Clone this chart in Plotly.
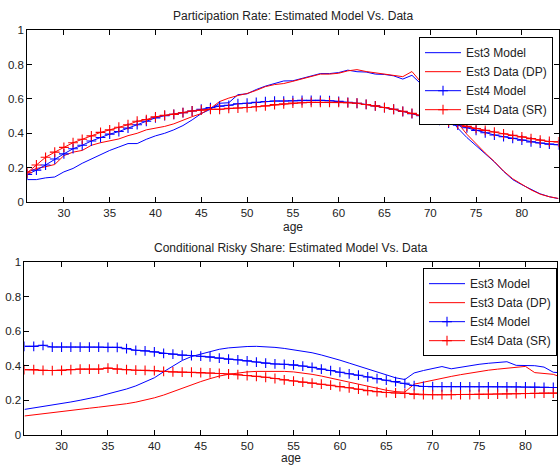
import plotly.graph_objects as go

ages = list(range(26, 85))

# Participation rate (top panel)
pr_est3_model = [0.13, 0.13, 0.14, 0.145, 0.175, 0.195, 0.225, 0.25, 0.275, 0.30,
                 0.32, 0.34, 0.34, 0.365, 0.385, 0.40, 0.42, 0.445, 0.478, 0.515,
                 0.54, 0.575, 0.578, 0.625, 0.63, 0.655, 0.675, 0.688, 0.705, 0.706,
                 0.72, 0.735, 0.748, 0.748, 0.754, 0.768, 0.759, 0.757, 0.745, 0.743,
                 0.735, 0.716, 0.738, 0.687, 0.64, 0.585, 0.495, 0.43, 0.375, 0.328,
                 0.28, 0.233, 0.178, 0.13, 0.10, 0.072, 0.047, 0.03, 0.019]
pr_est3_data = [0.172, 0.195, 0.205, 0.218, 0.27, 0.29, 0.30, 0.33, 0.345, 0.358,
                0.367, 0.386, 0.40, 0.42, 0.43, 0.44, 0.455, 0.478, 0.497, 0.515,
                0.545, 0.585, 0.605, 0.62, 0.632, 0.65, 0.672, 0.684, 0.69, 0.703,
                0.716, 0.731, 0.745, 0.745, 0.75, 0.764, 0.771, 0.76, 0.752, 0.745,
                0.738, 0.73, 0.76, 0.697, 0.65, 0.60, 0.536, 0.46, 0.394, 0.337,
                0.285, 0.235, 0.18, 0.135, 0.10, 0.07, 0.045, 0.03, 0.02]
pr_est4_model = [0.16, 0.185, 0.215, 0.25, 0.28, 0.31, 0.33, 0.355, 0.375, 0.395,
                 0.41, 0.43, 0.45, 0.47, 0.49, 0.503, 0.51, 0.52, 0.53, 0.54,
                 0.55, 0.558, 0.563, 0.572, 0.575, 0.58, 0.585, 0.588, 0.588, 0.59,
                 0.592, 0.592, 0.592, 0.59, 0.586, 0.58, 0.575, 0.568, 0.56, 0.55,
                 0.54, 0.527, 0.514, 0.502, 0.49, 0.475, 0.46, 0.447, 0.432, 0.417,
                 0.403, 0.39, 0.38, 0.37, 0.36, 0.35, 0.343, 0.337, 0.333]
pr_est4_data = [0.17, 0.215, 0.26, 0.29, 0.318, 0.345, 0.365, 0.385, 0.405, 0.42,
                0.435, 0.45, 0.47, 0.48, 0.496, 0.505, 0.51, 0.52, 0.53, 0.535,
                0.54, 0.54, 0.545, 0.547, 0.55, 0.555, 0.56, 0.567, 0.572, 0.576,
                0.578, 0.58, 0.58, 0.58, 0.58, 0.578, 0.575, 0.568, 0.56, 0.55,
                0.54, 0.528, 0.516, 0.505, 0.492, 0.48, 0.466, 0.453, 0.44, 0.428,
                0.417, 0.407, 0.397, 0.388, 0.379, 0.369, 0.36, 0.352, 0.35]

# Conditional risky share (bottom panel)
rs_est3_model = [0.147, 0.155, 0.163, 0.171, 0.179, 0.19, 0.2, 0.21, 0.222, 0.237,
                 0.25, 0.265, 0.283, 0.305, 0.33, 0.365, 0.4, 0.43, 0.453, 0.468,
                 0.484, 0.495, 0.503, 0.508, 0.511, 0.512, 0.511, 0.506, 0.5, 0.492,
                 0.484, 0.475, 0.462, 0.448, 0.432, 0.415, 0.398, 0.38, 0.36, 0.345,
                 0.33, 0.32, 0.358, 0.372, 0.385, 0.395, 0.382, 0.392, 0.4, 0.408,
                 0.414, 0.418, 0.423, 0.402, 0.402, 0.4, 0.392, 0.362, 0.358]
rs_est3_data = [0.109, 0.116, 0.123, 0.13, 0.137, 0.143, 0.149, 0.154, 0.16, 0.166,
                0.173, 0.18, 0.189, 0.2, 0.214, 0.23, 0.25, 0.27, 0.29, 0.308,
                0.325, 0.34, 0.35, 0.358, 0.364, 0.367, 0.368, 0.368, 0.367, 0.364,
                0.358, 0.35, 0.34, 0.328, 0.316, 0.303, 0.29, 0.278, 0.268, 0.258,
                0.25, 0.247, 0.293, 0.305, 0.315, 0.327, 0.338, 0.348, 0.357, 0.367,
                0.374, 0.38, 0.386, 0.392, 0.396, 0.36, 0.355, 0.35, 0.33]
rs_est4_model = [0.512, 0.512, 0.518, 0.508, 0.508, 0.508, 0.508, 0.508, 0.508, 0.506,
                 0.506, 0.499, 0.489, 0.486, 0.48, 0.471, 0.467, 0.461, 0.459, 0.455,
                 0.451, 0.444, 0.438, 0.434, 0.428, 0.421, 0.415, 0.41, 0.408, 0.405,
                 0.398, 0.39, 0.38, 0.372, 0.362, 0.353, 0.345, 0.335, 0.325, 0.316,
                 0.308, 0.298, 0.285, 0.28, 0.279, 0.278, 0.278, 0.278, 0.278, 0.278,
                 0.278, 0.278, 0.278, 0.278, 0.277, 0.276, 0.275, 0.274, 0.273]
rs_est4_data = [0.377, 0.377, 0.373, 0.372, 0.373, 0.377, 0.38, 0.38, 0.38, 0.386,
                0.38, 0.377, 0.374, 0.373, 0.372, 0.367, 0.364, 0.363, 0.362, 0.36,
                0.358, 0.355, 0.352, 0.348, 0.343, 0.338, 0.333, 0.326, 0.318, 0.311,
                0.305, 0.299, 0.293, 0.287, 0.279, 0.272, 0.264, 0.256, 0.25, 0.245,
                0.242, 0.24, 0.234, 0.232, 0.232, 0.232, 0.232, 0.233, 0.233, 0.234,
                0.235, 0.236, 0.237, 0.238, 0.239, 0.24, 0.241, 0.241, 0.242]

series_names = ["Est3 Model", "Est3 Data (DP)", "Est4 Model", "Est4 Data (SR)"]
series_colors = ["#0000ff", "#ff0000", "#0000ff", "#ff0000"]
series_marked = [False, False, True, True]
titles = ["Participation Rate: Estimated Model Vs. Data",
          "Conditional Risky Share: Estimated Model Vs. Data"]
x_ticks = [30, 35, 40, 45, 50, 55, 60, 65, 70, 75, 80]
y_ticks = [0, 0.2, 0.4, 0.6, 0.8, 1]
y_tick_text = ["0", "0.2", "0.4", "0.6", "0.8", "1"]

W, H = 560, 472
FONT = "Liberation Sans, Arial, Helvetica, sans-serif"

fig = go.Figure()

panels = [
    (pr_est3_model, pr_est3_data, pr_est4_model, pr_est4_data),
    (rs_est3_model, rs_est3_data, rs_est4_model, rs_est4_data),
]
for p, data in enumerate(panels):
    xa = "x" if p == 0 else "x2"
    ya = "y" if p == 0 else "y2"
    lg = "legend" if p == 0 else "legend2"
    for name, col, marked, vals in zip(series_names, series_colors, series_marked, data):
        fig.add_trace(go.Scatter(
            x=ages, y=vals, name=name, xaxis=xa, yaxis=ya, legend=lg,
            mode="lines+markers" if marked else "lines",
            line=dict(color=col, width=1),
            marker=dict(symbol="cross-thin", size=7,
                        line=dict(color=col, width=1.1)) if marked else None,
            showlegend=True,
        ))

def px_x(v):
    return v / W

def px_y(v):
    return (H - v) / H

axis_common = dict(
    showgrid=False, zeroline=False, showline=True, linecolor="black", linewidth=1,
    mirror="ticks", ticks="inside", ticklen=5, tickcolor="black", tickwidth=1,
    tickfont=dict(family=FONT, size=11.5, color="#222"),
)

fig.update_layout(
    width=W, height=H,
    margin=dict(l=0, r=0, t=0, b=0),
    paper_bgcolor="white", plot_bgcolor="white",
    font=dict(family=FONT, color="#222"),
    xaxis=dict(domain=[px_x(27.3), px_x(559.5)], range=[26, 84], anchor="y",
               tickvals=x_ticks, **axis_common),
    yaxis=dict(domain=[px_y(201), px_y(25)], range=[0, 1], anchor="x",
               tickvals=y_ticks, ticktext=y_tick_text, **axis_common),
    xaxis2=dict(domain=[px_x(24.5), px_x(558)], range=[26, 83.4], anchor="y2",
                tickvals=x_ticks, **axis_common),
    yaxis2=dict(domain=[px_y(440), px_y(262.7)], range=[0, 1], anchor="x2",
                tickvals=y_ticks, ticktext=y_tick_text, **axis_common),
    legend=dict(x=px_x(554), y=px_y(32), xanchor="right", yanchor="top",
                bgcolor="white", bordercolor="black", borderwidth=1,
                font=dict(family=FONT, size=12, color="#222"),
                itemwidth=36, tracegroupgap=0),
    legend2=dict(x=px_x(558), y=px_y(269), xanchor="right", yanchor="top",
                 bgcolor="white", bordercolor="black", borderwidth=1,
                 font=dict(family=FONT, size=12, color="#222"),
                 itemwidth=36, tracegroupgap=0),
    showlegend=True,
)

annots = [
    dict(text=titles[0], x=px_x(293.4), y=px_y(10), size=12),
    dict(text=titles[1], x=px_x(291.3), y=px_y(248), size=12),
    dict(text="age", x=px_x(293.4), y=px_y(226.5), size=12),
    dict(text="age", x=px_x(291.3), y=px_y(464), size=12),
]
for a in annots:
    fs = a.pop("size")
    fig.add_annotation(xref="paper", yref="paper", showarrow=False,
                       xanchor="center", yanchor="middle",
                       font=dict(family=FONT, size=fs, color="#222"), **a)

fig.write_html(
    "out.html",
    config={"displayModeBar": False},
    post_script="document.body.style.margin='0';document.body.style.padding='0';"
                "document.documentElement.style.overflow='hidden';",
)
